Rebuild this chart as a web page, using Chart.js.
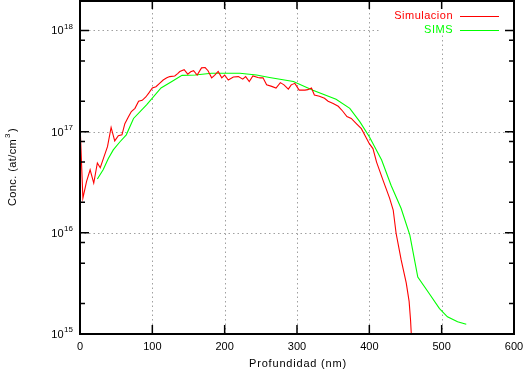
<!DOCTYPE html>
<html>
<head>
<meta charset="utf-8">
<script src="https://cdn.jsdelivr.net/npm/chart.js@4"></script>
<style>
  html, body { margin: 0; padding: 0; background: #fff; }
  #wrap { width: 524px; height: 372px; }
</style>
</head>
<body>
<div id="wrap"><canvas id="chart" width="524" height="372"></canvas></div>
<script>
// Simulacion (nm, at/cm3)
const simDepth = [0, 4, 9, 14, 19, 24, 28, 33, 38, 43, 48, 53, 58, 62, 67, 71, 76, 81, 86, 91,
  95, 100, 105, 110, 115, 120, 124, 131, 135, 138, 144, 149, 153, 157, 162, 168, 173, 177, 182, 186,
  191, 196, 200, 205, 212, 219, 225, 229, 234, 239, 246, 249, 253, 258, 265, 271, 277, 282, 288, 292,
  297, 303, 311, 315, 320, 324, 331, 338, 343, 350, 357, 363, 369, 375, 382, 389, 396, 400, 405, 410,
  419, 428, 433, 437, 444, 451, 455, 457, 458];
const simConc = [1.2e17, 2.2e16, 3.2e16, 4.2e16, 3.1e16, 4.9e16, 4.4e16, 5.6e16, 7.1e16, 1.1e17,
  8.1e16, 9.1e16, 9.3e16, 1.2e17, 1.4e17, 1.58e17, 1.7e17, 2.0e17, 2.04e17, 2.2e17,
  2.4e17, 2.7e17, 2.78e17, 3.0e17, 3.24e17, 3.4e17, 3.5e17, 3.55e17, 3.75e17, 3.93e17,
  4.1e17, 3.7e17, 3.9e17, 4.0e17, 3.63e17, 4.27e17, 4.3e17, 4.0e17, 3.4e17, 3.6e17,
  3.93e17, 3.4e17, 3.63e17, 3.24e17, 3.47e17, 3.5e17, 3.3e17, 3.5e17, 3.13e17, 3.55e17,
  3.43e17, 3.4e17, 3.4e17, 2.9e17, 2.8e17, 2.7e17, 3.05e17, 2.9e17, 2.63e17, 2.9e17,
  3.0e17, 2.57e17, 2.57e17, 2.6e17, 2.7e17, 2.3e17, 2.24e17, 2.14e17, 2.0e17, 1.9e17,
  1.78e17, 1.6e17, 1.41e17, 1.35e17, 1.2e17, 1.07e17, 8.6e16, 7.6e16, 6.8e16, 5.0e16,
  3.3e16, 2.2e16, 1.68e16, 9.9e15, 5.4e15, 3.2e15, 2.1e15, 1.37e15, 1.0e15];

// SIMS (nm, at/cm3)
const simsDepth = [24, 32, 39, 46, 55, 64, 74, 92, 112, 127, 141, 159, 182, 221, 244, 262, 295, 322,
  354, 373, 387, 400, 417, 430, 444, 456, 467, 483, 497, 508, 522, 534];
const simsConc = [3.4e16, 4.2e16, 5.4e16, 6.6e16, 7.9e16, 9.3e16, 1.35e17, 1.84e17, 2.7e17, 3.13e17,
  3.6e17, 3.63e17, 3.78e17, 3.78e17, 3.63e17, 3.43e17, 3.13e17, 2.57e17,
  2.09e17, 1.7e17, 1.25e17, 8.9e16, 5.25e16, 2.95e16, 1.74e16, 9.5e15, 3.66e15, 2.5e15,
  1.78e15, 1.48e15, 1.32e15, 1.25e15];

const xTicks = [0, 100, 200, 300, 400, 500, 600];
const yDecades = [15, 16, 17, 18];
const yMinor = [2, 5, 8];

const legendItems = [
  { label: "Simulacion", color: "#ff0000" },
  { label: "SIMS", color: "#00ff00" },
];

const toPoints = (xs, ys) => xs.map((x, i) => ({ x: x, y: ys[i] }));

const FONT = "Liberation Sans, Arial, Helvetica, sans-serif";

// ejes estilo gnuplot: rejilla punteada, marcas hacia dentro en los 4 lados
const gnuplotAxes = {
  id: "gnuplotAxes",
  beforeDatasetsDraw(chart) {
    const { ctx, chartArea: a, scales } = chart;
    const legLeft = 380, legBottom = 34;
    ctx.save();
    ctx.strokeStyle = "#a0a0a0";
    ctx.lineWidth = 1;
    ctx.setLineDash([1.5, 3]);
    xTicks.slice(1, -1).forEach((v) => {
      const x = Math.round(scales.x.getPixelForValue(v)) + 0.5;
      ctx.beginPath();
      ctx.moveTo(x, a.bottom);
      ctx.lineTo(x, x > legLeft ? legBottom : a.top);
      ctx.stroke();
    });
    yDecades.slice(1).forEach((d) => {
      const y = Math.round(scales.y.getPixelForValue(Math.pow(10, d))) + 0.5;
      ctx.beginPath();
      ctx.moveTo(a.left, y);
      ctx.lineTo(y < legBottom ? legLeft : a.right, y);
      ctx.stroke();
    });
    ctx.restore();
  },
  afterDatasetsDraw(chart) {
    const { ctx, chartArea: a, scales } = chart;
    ctx.save();
    ctx.setLineDash([]);
    ctx.strokeStyle = "#000";
    ctx.lineWidth = 2;
    ctx.strokeRect(a.left, a.top + 1, a.right - a.left, a.bottom - a.top - 1);

    // marcas
    ctx.lineWidth = 1.5;
    ctx.beginPath();
    xTicks.forEach((v) => {
      const x = scales.x.getPixelForValue(v);
      ctx.moveTo(x, a.bottom); ctx.lineTo(x, a.bottom - 9);
      ctx.moveTo(x, a.top); ctx.lineTo(x, a.top + 9);
    });
    yDecades.forEach((d) => {
      const y = scales.y.getPixelForValue(Math.pow(10, d));
      ctx.moveTo(a.left, y); ctx.lineTo(a.left + 9, y);
      ctx.moveTo(a.right, y); ctx.lineTo(a.right - 9, y);
      yMinor.forEach((m) => {
        const v = m * Math.pow(10, d);
        if (v > scales.y.max) return;
        const ym = scales.y.getPixelForValue(v);
        ctx.moveTo(a.left, ym); ctx.lineTo(a.left + 5, ym);
        ctx.moveTo(a.right, ym); ctx.lineTo(a.right - 5, ym);
      });
    });
    ctx.stroke();

    // etiquetas eje x
    ctx.fillStyle = "#000";
    ctx.font = "11px " + FONT;
    ctx.textAlign = "center";
    ctx.textBaseline = "middle";
    xTicks.forEach((v) => {
      ctx.fillText(String(v), scales.x.getPixelForValue(v), 347);
    });
    ctx.letterSpacing = "0.8px";
    ctx.fillText("Profundidad (nm)", (a.left + a.right) / 2 + 1, 364);
    ctx.letterSpacing = "0px";

    // etiquetas eje y: 10^n
    yDecades.forEach((d) => {
      const y = scales.y.getPixelForValue(Math.pow(10, d));
      ctx.font = "8px " + FONT;
      ctx.textAlign = "right";
      const supW = ctx.measureText(String(d)).width;
      ctx.fillText(String(d), 73, y - 4);
      ctx.font = "11px " + FONT;
      ctx.fillText("10", 73 - supW - 0.5, y + 1);
    });

    // titulo eje y
    ctx.save();
    ctx.translate(13, 167);
    ctx.rotate(-Math.PI / 2);
    ctx.textAlign = "left";
    ctx.letterSpacing = "0.4px";
    ctx.font = "11px " + FONT;
    const p1 = "Conc. (at/cm", p3 = ")";
    const w1 = ctx.measureText(p1).width, w3 = ctx.measureText(p3).width;
    ctx.font = "8px " + FONT;
    const w2 = ctx.measureText("3").width;
    let x0 = -(w1 + w2 + w3 + 2) / 2;
    ctx.font = "11px " + FONT;
    ctx.fillText(p1, x0, 0);
    ctx.font = "8px " + FONT;
    ctx.fillText("3", x0 + w1 + 1, -5);
    ctx.font = "11px " + FONT;
    ctx.fillText(p3, x0 + w1 + w2 + 2, 0);
    ctx.restore();

    // leyenda
    ctx.font = "11px " + FONT;
    ctx.textAlign = "right";
    ctx.letterSpacing = "0.5px";
    legendItems.forEach((it, i) => {
      const y = 16 + i * 13.5;
      ctx.fillStyle = it.color;
      ctx.fillText(it.label, 453, y);
      ctx.strokeStyle = it.color;
      ctx.lineWidth = 1;
      ctx.beginPath();
      ctx.moveTo(460, Math.round(y) + 0.5);
      ctx.lineTo(499, Math.round(y) + 0.5);
      ctx.stroke();
    });
    ctx.restore();
  },
};

new Chart(document.getElementById("chart"), {
  type: "line",
  data: {
    datasets: [
      {
        label: legendItems[0].label,
        data: toPoints(simDepth, simConc),
        borderColor: legendItems[0].color,
        borderWidth: 1.1,
        pointRadius: 0,
        tension: 0,
        fill: false,
      },
      {
        label: legendItems[1].label,
        data: toPoints(simsDepth, simsConc),
        borderColor: legendItems[1].color,
        borderWidth: 1.1,
        pointRadius: 0,
        tension: 0,
        fill: false,
      },
    ],
  },
  options: {
    responsive: false,
    animation: false,
    layout: { padding: { top: 0, right: 10, left: 0, bottom: 0 } },
    scales: {
      x: {
        type: "linear",
        min: 0,
        max: 600,
        grid: { display: false },
        border: { display: false },
        ticks: { display: false },
        afterFit: (scale) => { scale.height = 38; },
      },
      y: {
        type: "logarithmic",
        min: 1e15,
        max: 2e18,
        grid: { display: false },
        border: { display: false },
        ticks: { display: false },
        afterFit: (scale) => { scale.width = 80; },
      },
    },
    plugins: {
      legend: { display: false },
      tooltip: { enabled: false },
    },
  },
  plugins: [gnuplotAxes],
});
</script>
</body>
</html>
